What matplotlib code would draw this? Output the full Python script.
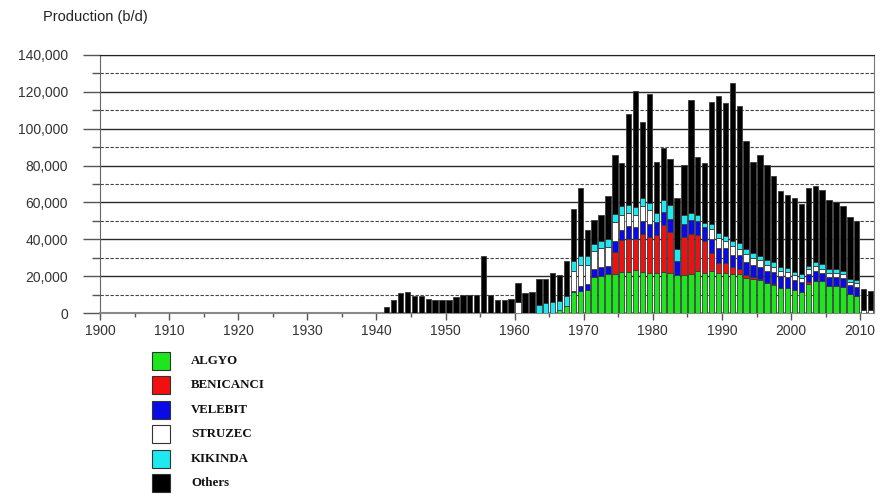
import numpy as np
import matplotlib
matplotlib.use('Agg')
import matplotlib.pyplot as plt
from matplotlib.patches import Rectangle
from matplotlib.ticker import FuncFormatter, MultipleLocator

# production by field, b/d, one value per year 1941..2011
years = np.arange(1941, 2012)

fields = ['ALGYO', 'BENICANCI', 'VELEBIT', 'STRUZEC', 'KIKINDA', 'Others']
colors = ['#1ee61e', '#f01010', '#0a0ae6', '#ffffff', '#1ee8f0', '#000000']

algyo = [0]*25 + [1450, 4000,
         11200, 12100, 12600, 19400, 20300, 21200, 21200, 22100, 22100, 23300,
         22100, 21500, 21500, 22100, 21500, 20600, 20400, 21300, 22600, 21500,
         22600, 21500, 21500, 21200, 21000, 18800, 18300, 17700, 16500, 15000,
         13700, 13600, 12500, 11200, 15700, 17500, 17200, 14700, 14700, 14300,
         10100, 9200, 0, 0]
benicanci = [0]*27 + [0, 0, 0, 0, 0, 0, 12100, 17500, 18100, 16900,
             21000, 19900, 21000, 25900, 22300, 0, 20700, 21800, 19900, 17400,
             9800, 5500, 5500, 3900, 2700, 1600, 1200, 900, 0, 700,
             0, 0, 0, 0, 900, 0, 0, 0, 0, 0,
             0, 0, 0, 0]
velebit = [0]*27 + [700, 2400, 3100, 4300, 4500, 4300, 5600, 5600, 6800, 6300,
           6800, 6900, 6900, 6600, 7000, 7400, 7400, 7200, 7500, 7600,
           7800, 8100, 8100, 6600, 7800, 7500, 6700, 6500, 6500, 6600,
           6400, 5800, 5400, 5400, 4700, 5500, 4700, 4700, 4700, 4700,
           4900, 5100, 0, 0]
struzec = [0]*19 + [6000] + [0]*7 + [11100, 11400, 10200, 9700, 10300, 10100, 10300, 8200, 7100, 6900,
           8100, 7400, 0, 0, 0, 0, 0, 0, 0, 0,
           5200, 5400, 4000, 4700, 3400, 4100, 3600, 3500, 3200, 2800,
           2900, 2700, 2700, 2200, 2600, 2700, 2200, 2100, 2100, 2300,
           1800, 2000, 1400, 1400]
kikinda = [0]*22 + [4200, 5400, 6000, 4900, 5300,
           5300, 5000, 5000, 4100, 4000, 4400, 4500, 4800, 4300, 4300,
           4200, 4000, 5000, 6500, 7600, 6500, 4700, 3800, 3000, 2500,
           2900, 2700, 2500, 2700, 2900, 2900, 2900, 2300, 2600, 2600,
           2100, 2100, 1500, 2500, 1800, 1800, 2500, 2200, 2200, 1700,
           1700, 1800, 0, 0]
others = [3300, 7300, 11000, 11400, 9200, 9200, 7800, 6900, 7300, 7300,
          8700, 9800, 9800, 9800, 30900, 10000, 6900, 6900, 7800, 10500,
          11000, 11400, 14500, 13300, 15900, 14300, 19100,
          28300, 37100, 13900, 13200, 13900, 23300, 32200, 23200, 49600, 63000,
          41600, 59200, 27400, 28400, 25400, 27700, 27300, 61300, 31500, 32400,
          66400, 74700, 72200, 85700, 74700, 58400, 49200, 54700, 51500, 46600,
          41100, 39700, 40100, 37700, 42300, 41400, 40200, 37400, 36400, 35100,
          33800, 31800, 11400, 10700]

series = [algyo, benicanci, velebit, struzec, kikinda, others]

W, H = 885, 498
fig = plt.figure(figsize=(W/100., H/100.), dpi=100)
ax = fig.add_axes([100./W, 1-313./H, 774./W, 258./H])

bottom = np.zeros(len(years))
for vals, col in zip(series, colors):
    vals = np.array(vals, dtype=float)
    ax.bar(years + 0.5, vals, width=0.78, bottom=bottom, color=col,
           edgecolor='#3a3a3a', linewidth=0.6, zorder=3)
    bottom += vals

ax.set_xlim(1900, 2012)
ax.set_ylim(0, 140000)
ax.set_xticks(np.arange(1900, 2011, 10))
ax.xaxis.set_minor_locator(MultipleLocator(5))
ax.yaxis.set_major_locator(MultipleLocator(20000))
ax.yaxis.set_minor_locator(MultipleLocator(10000))
ax.yaxis.set_major_formatter(FuncFormatter(lambda v, p: '{:,.0f}'.format(v)))

ax.yaxis.grid(True, which='major', color='#2a2a2a', linewidth=1.0, zorder=1)
ax.yaxis.grid(True, which='minor', color='#444444', linewidth=0.8,
              linestyle=(0, (3, 1.5)), zorder=1)
ax.set_axisbelow(True)

ax.tick_params(axis='y', which='major', length=12, width=1, color='#555555',
               pad=11, labelsize=10, labelcolor='#333333')
ax.tick_params(axis='y', which='minor', length=6, width=1, color='#555555')
ax.tick_params(axis='x', which='major', length=5, width=1, color='#555555',
               pad=3, labelsize=10, labelcolor='#333333')
ax.tick_params(axis='x', which='minor', length=3, width=1, color='#555555')
for lab in ax.get_xticklabels() + ax.get_yticklabels():
    lab.set_family('Liberation Sans')

ax.spines['left'].set_color('#666666')
ax.spines['bottom'].set_color('#888888')
ax.spines['bottom'].set_linewidth(1.5)
ax.spines['right'].set_color('#777777')
ax.spines['top'].set_color('#222222')

fig.text(43./W, 1-17./H, 'Production (b/d)', fontsize=10.5, family='Liberation Sans',
         color='#222222', va='center', ha='left')

# legend drawn by hand, below the plot
for i, (name, col) in enumerate(zip(fields, colors)):
    yc = 360.5 + i*24.55
    fig.add_artist(Rectangle((151.5/W, 1-(yc+9)/H), 18.5/W, 18./H, transform=fig.transFigure,
                             facecolor=col, edgecolor='#333333', linewidth=0.8))
    fig.text(191./W, 1-yc/H, name, fontsize=9.3, family='Liberation Serif',
             weight='bold', color='#111111', va='center', ha='left')

fig.savefig('out.png', dpi=100)
